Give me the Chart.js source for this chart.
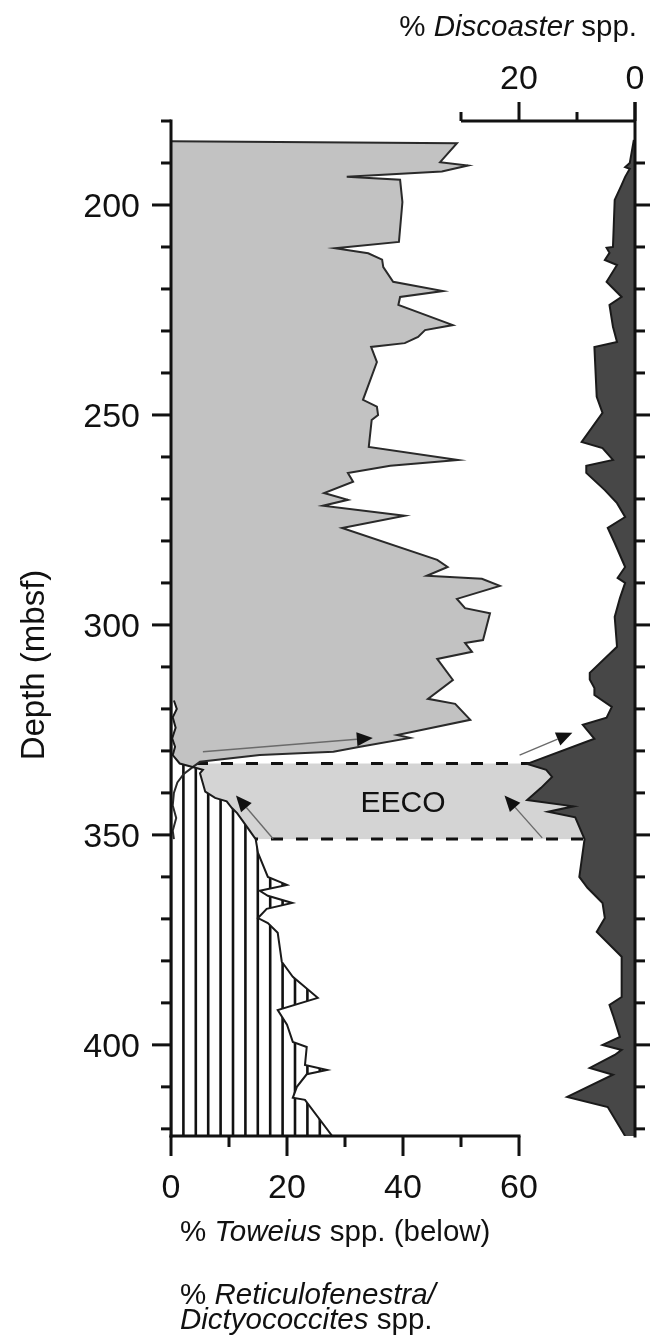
<!DOCTYPE html>
<html>
<head>
<meta charset="utf-8">
<script src="https://cdn.jsdelivr.net/npm/chart.js@4"></script>
<style>
  html, body { margin: 0; padding: 0; background: #fff; }
  canvas { display: block; }
</style>
</head>
<body>
<canvas id="chart" width="651" height="1336"></canvas>
<script>
// depth in mbsf, abundance in %
const retDepth = [184.8, 185.3, 189.8, 190.6, 192.0, 193.3, 194.0, 199.3, 208.8, 210.3, 211.5, 213.0, 214.8, 218.3,
  220.5, 221.9, 223.8, 228.6, 229.8, 231.4, 232.9, 233.8, 237.4, 246.4, 248.0, 250.0, 251.2, 257.6, 260.7, 262.1,
  263.8, 265.9, 268.6, 270.2, 271.6, 274.0, 276.9, 284.5, 286.2, 288.3, 289.0, 290.7, 293.8, 296.0, 297.2, 303.6,
  304.3, 306.4, 308.1, 313.1, 317.6, 318.8, 322.6, 326.2, 326.9, 329.0, 330.2, 331.0, 332.6, 333.8, 335.5, 337.5,
  340.0, 343.0, 346.0, 349.0, 351.0];
const retPct = [0, 49.3, 46.4, 51.2, 46.7, 30.3, 39.5, 39.9, 39.3, 28.3, 34.0, 36.4, 36.6, 38.3,
  46.9, 39.5, 39.2, 48.6, 43.8, 42.6, 40.3, 34.5, 35.5, 33.1, 35.5, 35.7, 34.6, 34.1, 49.5, 37.8,
  30.5, 31.4, 26.4, 30.5, 26.2, 40.3, 29.5, 45.9, 47.7, 44.1, 53.6, 56.7, 49.3, 50.7, 55.0, 53.8,
  50.7, 51.9, 45.9, 48.6, 44.3, 49.0, 51.6, 39.0, 41.2, 32.6, 28.0, 15.3, 5.0, 3.8, 2.2, 1.1,
  0.5, 0.3, 0.9, 0.3, 0.5];

const towDepth = [318.0, 320.0, 322.0, 324.5, 327.0, 329.0, 331.0, 333.0, 334.5, 335.3, 339.7, 341.2, 342.0, 343.6,
  344.8, 348.1, 351.0, 354.3, 360.0, 361.9, 363.3, 364.5, 366.2, 367.6, 369.8, 371.0, 373.3, 380.2, 383.8, 388.8,
  391.7, 395.2, 399.3, 400.5, 404.8, 406.0, 407.0, 410.0, 412.6, 413.1, 421.7];
const towPct = [0.5, 1.0, 0.3, 0.8, 0.2, 0.7, 0.3, 1.5, 5.5, 5.0, 5.9, 7.6, 9.6, 10.5,
  11.4, 13.1, 14.6, 15.0, 16.7, 20.0, 15.3, 16.7, 20.9, 16.5, 15.0, 16.7, 18.4, 19.1, 21.0, 25.3,
  18.4, 20.0, 21.0, 23.4, 23.1, 26.9, 23.4, 21.7, 21.0, 23.1, 27.8];

const disDepth = [184.5, 190.0, 191.0, 191.4, 193.3, 195.2, 198.8, 210.0, 210.2, 211.4, 213.1, 214.3, 218.3, 221.9,
  223.8, 229.0, 232.6, 233.8, 245.7, 249.5, 256.4, 257.9, 260.7, 262.1, 263.8, 267.9, 271.0, 274.3, 276.9, 280.5,
  286.2, 288.8, 290.0, 293.6, 298.1, 305.2, 311.4, 313.0, 315.0, 316.7, 319.5, 322.1, 323.8, 327.1, 333.1, 334.5,
  336.2, 338.8, 341.7, 343.2, 344.5, 345.8, 351.0, 360.0, 362.6, 366.2, 369.8, 373.1, 379.0, 388.6, 390.5, 392.9,
  398.1, 400.0, 401.2, 402.4, 405.5, 407.1, 412.4, 414.8, 421.7];
const disPct = [0.2, 0.9, 1.7, 0.9, 1.7, 2.3, 3.5, 3.8, 4.9, 4.4, 5.2, 3.1, 4.9, 2.3,
  4.4, 3.8, 3.1, 7.0, 6.6, 5.6, 9.2, 5.6, 3.8, 8.4, 8.4, 5.2, 3.1, 1.7, 4.7, 3.5,
  1.7, 3.0, 1.7, 2.6, 3.5, 3.1, 7.8, 7.8, 7.0, 7.0, 4.0, 4.9, 9.0, 7.0, 18.6, 15.3,
  14.3, 16.2, 18.6, 10.6, 15.0, 10.3, 8.7, 9.6, 8.2, 5.6, 5.2, 6.6, 2.3, 2.3, 4.4, 3.8,
  2.6, 5.6, 2.3, 3.5, 7.8, 3.8, 11.7, 4.7, 1.7];

const eecoTop = 333;
const eecoBottom = 351;
const depthMajorTicks = [200, 250, 300, 350, 400];
const depthMinorStep = 10;
const bottomTicks = [0, 20, 40, 60];
const topTicks = [20, 0];

// arrows: [scaleId, tailValue, tailDepth, tipValue, tipDepth]
const arrows = [
  ['x', 5.5, 330.2, 34.8, 326.9],
  ['x2', 19.9, 331.0, 10.8, 325.7],
  ['x', 17.6, 350.9, 11.2, 340.6],
  ['x2', 16.0, 350.7, 22.5, 340.6]
];

const FONT = '"Liberation Sans", Arial, sans-serif';
const toPoints = (depths, vals) => depths.map((d, i) => ({ x: vals[i], y: d }));

// vertical hatching for Toweius
const hatchCanvas = document.createElement('canvas');
hatchCanvas.width = 62;
hatchCanvas.height = 4;
const hctx = hatchCanvas.getContext('2d');
hctx.fillStyle = '#fff';
hctx.fillRect(0, 0, 62, 4);
hctx.fillStyle = '#111';
for (let k = 0; k <= 5; k++) hctx.fillRect(k * 12.4 - 1.3, 0, 2.6, 4);
const hatch = hctx.createPattern(hatchCanvas, 'repeat');

function drawRuns(ctx, parts, x, y, size, align) {
  let total = 0;
  const widths = parts.map(([t, it]) => {
    ctx.font = (it ? 'italic ' : '') + size + 'px ' + FONT;
    const w = ctx.measureText(t).width;
    total += w;
    return w;
  });
  let cx = align === 'right' ? x - total : align === 'center' ? x - total / 2 : x;
  ctx.textAlign = 'left';
  parts.forEach(([t, it], i) => {
    ctx.font = (it ? 'italic ' : '') + size + 'px ' + FONT;
    ctx.fillText(t, cx, y);
    cx += widths[i];
  });
}

const backdrop = {
  id: 'backdrop',
  beforeDraw(chart) {
    const { ctx, chartArea } = chart;
    const y = chart.scales.y;
    hatch.setTransform(new DOMMatrix([1, 0, 0, 1, chartArea.left, 0]));
    const t = y.getPixelForValue(eecoTop);
    const b = y.getPixelForValue(eecoBottom);
    ctx.save();
    ctx.fillStyle = '#d4d4d4';
    ctx.fillRect(chartArea.left, t, chartArea.right - chartArea.left, b - t);
    ctx.strokeStyle = '#111';
    ctx.lineWidth = 3;
    ctx.setLineDash([12, 13]);
    [t, b].forEach(py => {
      ctx.beginPath();
      ctx.moveTo(chartArea.left, py);
      ctx.lineTo(chartArea.right, py);
      ctx.stroke();
    });
    ctx.restore();
  }
};

const notes = {
  id: 'notes',
  afterDatasetsDraw(chart) {
    const { ctx } = chart;
    const y = chart.scales.y;
    ctx.save();
    arrows.forEach(([sid, v0, d0, v1, d1]) => {
      const s = chart.scales[sid];
      const x0 = s.getPixelForValue(v0), y0 = y.getPixelForValue(d0);
      const x1 = s.getPixelForValue(v1), y1 = y.getPixelForValue(d1);
      const ang = Math.atan2(y1 - y0, x1 - x0);
      const len = 16, half = 7;
      const bx = x1 - len * Math.cos(ang), by = y1 - len * Math.sin(ang);
      ctx.strokeStyle = '#6a6a6a';
      ctx.lineWidth = 1.4;
      ctx.beginPath();
      ctx.moveTo(x0, y0);
      ctx.lineTo(bx, by);
      ctx.stroke();
      ctx.fillStyle = '#111';
      ctx.beginPath();
      ctx.moveTo(x1, y1);
      ctx.lineTo(bx + half * Math.sin(ang), by - half * Math.cos(ang));
      ctx.lineTo(bx - half * Math.sin(ang), by + half * Math.cos(ang));
      ctx.closePath();
      ctx.fill();
    });
    ctx.fillStyle = '#111';
    ctx.font = '30px ' + FONT;
    ctx.textAlign = 'center';
    ctx.textBaseline = 'alphabetic';
    ctx.fillText('EECO', chart.scales.x.getPixelForValue(40), y.getPixelForValue(342) + 11);
    ctx.restore();
  }
};

const frame = {
  id: 'frame',
  afterDraw(chart) {
    const { ctx, chartArea } = chart;
    const x = chart.scales.x, x2 = chart.scales.x2, y = chart.scales.y;
    const left = x.getPixelForValue(0);
    const right = x2.getPixelForValue(0);
    const top = chartArea.top;
    const bottom = chartArea.bottom;
    const seg = (a, b, c, d) => { ctx.beginPath(); ctx.moveTo(a, b); ctx.lineTo(c, d); ctx.stroke(); };
    ctx.save();
    ctx.strokeStyle = '#111';
    ctx.fillStyle = '#111';
    ctx.lineWidth = 3;
    ctx.lineCap = 'butt';

    // depth axes (left and right)
    seg(left, top - 1.5, left, bottom + 1.5);
    seg(right, top - 19, right, bottom + 1.5);
    for (let d = y.min - y.min % depthMinorStep; d <= y.max; d += depthMinorStep) {
      const py = y.getPixelForValue(d);
      const major = depthMajorTicks.includes(d);
      seg(left - (major ? 19 : 10), py, left, py);
      if (py > top + 20) seg(right, py, right + (major ? 15 : 10), py);
    }
    ctx.font = '34px ' + FONT;
    ctx.textAlign = 'right';
    ctx.textBaseline = 'alphabetic';
    depthMajorTicks.forEach(d => ctx.fillText(String(d), 140, y.getPixelForValue(d) + 12));

    // bottom axis (Toweius / Reticulofenestra)
    const bMax = bottomTicks[bottomTicks.length - 1];
    seg(left - 1.5, bottom, x.getPixelForValue(bMax) + 1.5, bottom);
    for (let v = 0; v <= bMax; v += 10) {
      const px = x.getPixelForValue(v);
      seg(px, bottom, px, bottom + (bottomTicks.includes(v) ? 20 : 11));
    }
    ctx.textAlign = 'center';
    bottomTicks.forEach(v => ctx.fillText(String(v), x.getPixelForValue(v), 1198));

    // top axis (Discoaster, reversed)
    const tEnd = x2.getPixelForValue(30);
    seg(tEnd, top, right, top);
    [30, 20, 10, 0].forEach(v => {
      const px = x2.getPixelForValue(v);
      seg(px, top, px, top - (topTicks.includes(v) ? 19 : 9));
    });
    topTicks.forEach(v => ctx.fillText(String(v), x2.getPixelForValue(v), 89));

    // titles
    drawRuns(ctx, [['% ', false], ['Discoaster', true], [' spp.', false]], 637, 36, 29.5, 'right');
    drawRuns(ctx, [['% ', false], ['Toweius', true], [' spp. (below)', false]], 180, 1241, 29.5, 'left');
    drawRuns(ctx, [['% ', false], ['Reticulofenestra/', true]], 180, 1304, 29.5, 'left');
    drawRuns(ctx, [['Dictyococcites', true], [' spp.', false]], 180, 1329, 29.5, 'left');

    ctx.translate(44, 665);
    ctx.rotate(-Math.PI / 2);
    ctx.font = '33px ' + FONT;
    ctx.textAlign = 'center';
    ctx.fillText('Depth (mbsf)', 0, 0);
    ctx.restore();
  }
};

new Chart(document.getElementById('chart'), {
  type: 'line',
  data: {
    datasets: [
      {
        label: 'Discoaster spp.',
        data: toPoints(disDepth, disPct),
        xAxisID: 'x2',
        backgroundColor: '#474747',
        borderColor: '#1a1a1a',
        borderWidth: 2,
        fill: 'origin',
        order: 1
      },
      {
        label: 'Toweius spp.',
        data: toPoints(towDepth, towPct),
        xAxisID: 'x',
        backgroundColor: hatch,
        borderColor: '#1a1a1a',
        borderWidth: 2,
        fill: 'origin',
        order: 2
      },
      {
        label: 'Reticulofenestra/Dictyococcites spp.',
        data: toPoints(retDepth, retPct),
        xAxisID: 'x',
        backgroundColor: '#c2c2c2',
        borderColor: '#2a2a2a',
        borderWidth: 2,
        fill: 'origin',
        order: 3
      }
    ]
  },
  options: {
    indexAxis: 'y',
    responsive: false,
    animation: false,
    layout: { padding: { left: 171, right: 16, top: 121, bottom: 200 } },
    elements: { point: { radius: 0 }, line: { tension: 0 } },
    plugins: {
      legend: { display: false },
      tooltip: { enabled: false },
      filler: { drawTime: 'beforeDatasetsDraw' }
    },
    scales: {
      x: { type: 'linear', min: 0, max: 80, display: false },
      x2: { type: 'linear', min: 0, max: 80, reverse: true, display: false },
      y: { type: 'linear', min: 180, max: 421.7, reverse: true, display: false }
    }
  },
  plugins: [backdrop, notes, frame]
});
</script>
</body>
</html>
